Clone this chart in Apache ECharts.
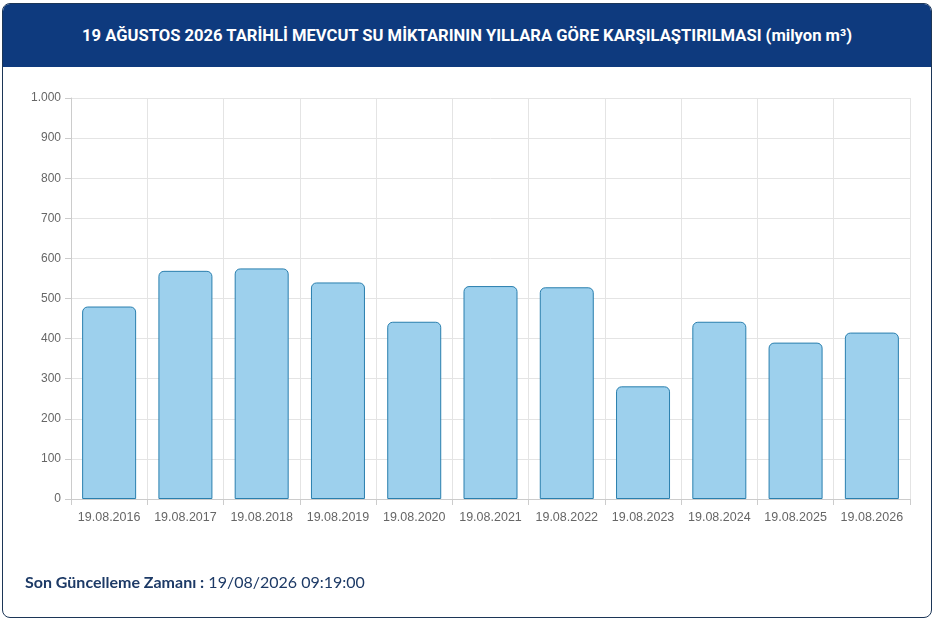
<!DOCTYPE html>
<html><head><meta charset="utf-8">
<script src="https://cdn.jsdelivr.net/npm/echarts@6/dist/echarts.min.js"></script>
<style>
html,body{margin:0;padding:0;width:934px;height:620px;background:#fff;overflow:hidden;}
#card{position:absolute;left:2px;top:3px;width:928px;height:613px;border:1px solid #1c3657;border-radius:8px;background:#fff;overflow:hidden;}
#head{position:absolute;left:0;top:0;width:100%;height:63px;background:#0e3a7e;color:#fff;font-family:Roboto,"Noto Sans",sans-serif;font-weight:bold;font-size:16.6px;text-align:center;line-height:63px;}
#chart{position:absolute;left:0;top:0;width:934px;height:620px;}
#foot{position:absolute;left:25px;top:572px;font-family:Lato,"Noto Sans",sans-serif;font-size:16px;color:#1d3a66;}
#foot b{font-weight:bold;}
</style></head>
<body>
<div id="card"><div id="head">19 AĞUSTOS 2026 TARİHLİ MEVCUT SU MİKTARININ YILLARA GÖRE KARŞILAŞTIRILMASI (milyon m³)</div></div>
<div id="chart"></div>
<div id="foot"><b>Son Güncelleme Zamanı :</b> 19/08/2026 09:19:00</div>
<script>
const categories = ["19.08.2016","19.08.2017","19.08.2018","19.08.2019","19.08.2020","19.08.2021","19.08.2022","19.08.2023","19.08.2024","19.08.2025","19.08.2026"];
const waterVolume = [480, 569, 575, 540, 442, 531, 528, 281, 442, 390, 415];
const yTicks = {min: 0, max: 1000, interval: 100};

const chart = echarts.init(document.getElementById('chart'), null, {renderer:'canvas'});
chart.setOption({
  backgroundColor: 'transparent',
  animation: false,
  grid: {left: 71, right: 24, top: 98, bottom: 121},
  xAxis: {
    type: 'category',
    data: categories,
    axisLine: {lineStyle: {color: '#cccccc'}},
    axisTick: {show: true, length: 6, interval: 0, lineStyle: {color: '#cccccc'}},
    splitLine: {show: true, interval: 0, lineStyle: {color: '#e4e4e4'}},
    axisLabel: {interval: 0, color: '#666', fontSize: 12.5, fontFamily: '"Liberation Sans", Arial, sans-serif', margin: 12}
  },
  yAxis: {
    type: 'value',
    min: yTicks.min, max: yTicks.max, interval: yTicks.interval,
    axisLine: {show: true, lineStyle: {color: '#cccccc'}},
    axisTick: {show: true, length: 6, lineStyle: {color: '#cccccc'}},
    splitLine: {show: true, lineStyle: {color: '#e4e4e4'}},
    axisLabel: {color: '#666', fontSize: 12, fontFamily: '"Liberation Sans", Arial, sans-serif', margin: 10,
      formatter: v => v.toLocaleString('de-DE')}
  },
  series: [{
    type: 'bar',
    data: waterVolume,
    barWidth: 54,
    itemStyle: {color: '#9dd0ed', borderColor: '#2a7fae', borderWidth: 1, borderRadius: [5,5,0,0]}
  }]
});
</script>
</body></html>
